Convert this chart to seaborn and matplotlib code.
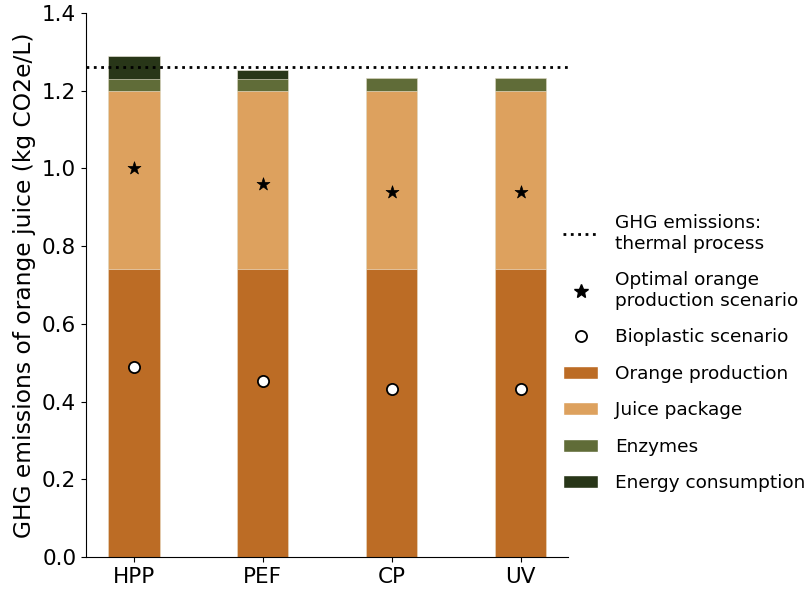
import numpy as np
import pandas as pd
import matplotlib
matplotlib.use("Agg")
import matplotlib.pyplot as plt
import seaborn as sns
from matplotlib.lines import Line2D
from matplotlib.patches import Patch

sns.set_style("ticks")
plt.rcParams['font.family'] = ['DejaVu Sans']
plt.rcParams.update({"text.color": "black", "axes.labelcolor": "black",
                     "xtick.color": "black", "ytick.color": "black",
                     "axes.edgecolor": "black"})

# data
processes = ["HPP", "PEF", "CP", "UV"]
orange_production = [0.74, 0.74, 0.74, 0.74]
juice_package = [0.46, 0.46, 0.46, 0.46]
enzymes = [0.031, 0.031, 0.034, 0.034]
energy = [0.058, 0.022, 0.0, 0.0]
optimal_orange = [1.00, 0.96, 0.94, 0.94]
bioplastic = [0.489, 0.453, 0.432, 0.432]
thermal_process = 1.262

colors = ["#BC6C25", "#DDA15E", "#606C38", "#283618"]
labels = ["Orange production", "Juice package", "Enzymes", "Energy consumption"]

df = pd.DataFrame({"process": processes,
                   "orange": orange_production,
                   "juice": juice_package,
                   "enzymes": enzymes,
                   "energy": energy})
# cumulative tops for stacking
df["c1"] = df.orange
df["c2"] = df.c1 + df.juice
df["c3"] = df.c2 + df.enzymes
df["c4"] = df.c3 + df.energy

fig = plt.figure(figsize=(8.07, 5.91), dpi=100)
ax = fig.add_axes([0.1066, 0.0575, 0.5975, 0.9205])

for col, c in zip(["c4", "c3", "c2", "c1"], colors[::-1]):
    sns.barplot(data=df, x="process", y=col, color=c, saturation=1, width=0.4,
                edgecolor="#f3eee0", linewidth=0.4, ax=ax)

ax.axhline(thermal_process, color="black", linestyle=":", linewidth=2)

sns.scatterplot(x=processes, y=optimal_orange, marker="*", s=95, color="black",
                edgecolor="black", linewidth=0.5, ax=ax, zorder=5)
sns.scatterplot(x=processes, y=bioplastic, marker="o", s=65, color="white",
                edgecolor="black", linewidth=1.3, ax=ax, zorder=5)

ax.set_ylim(0, 1.4)
ax.set_xlabel("")
ax.set_ylabel("GHG emissions of orange juice (kg CO2e/L)", fontsize=16.8)
ax.tick_params(axis="both", labelsize=15.5, color="black")
sns.despine(ax=ax)

handles = [Line2D([], [], color="black", linestyle=":", linewidth=2),
           Line2D([], [], color="black", marker="*", linestyle="", markersize=10),
           Line2D([], [], color="black", marker="o", markerfacecolor="white",
                  linestyle="", markersize=8, markeredgewidth=1.3)]
handles += [Patch(facecolor=c) for c in colors]
leg_labels = ["GHG emissions:\nthermal process", "Optimal orange\nproduction scenario",
              "Bioplastic scenario"] + labels
ax.legend(handles, leg_labels, loc="center left", bbox_to_anchor=(0.955, 0.375),
          frameon=False, fontsize=13.3, labelspacing=1.0, handlelength=1.9,
          handletextpad=0.9)

fig.savefig("out.png", dpi=100)
